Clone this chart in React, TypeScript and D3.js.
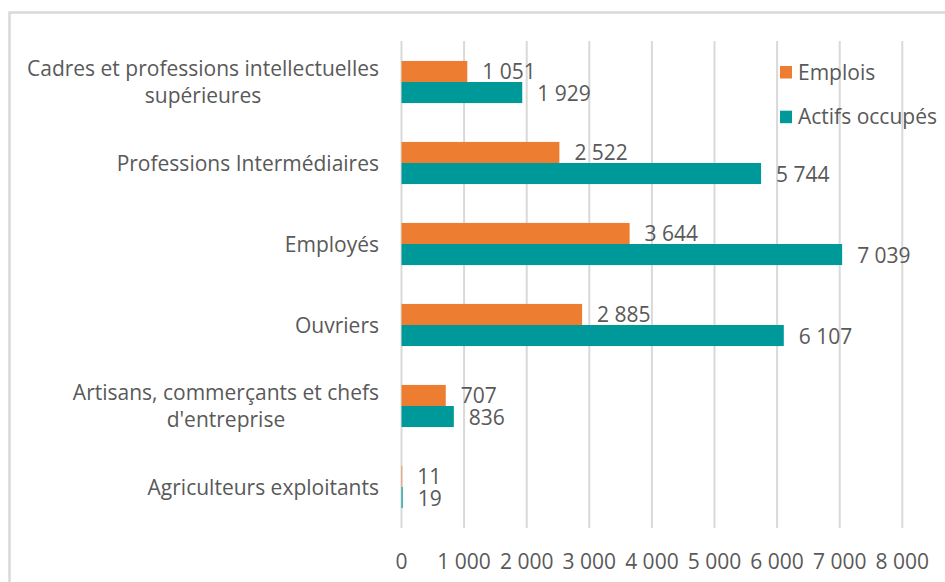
import React from "react";
import * as d3 from "d3";

const categories = [
  "Cadres et professions intellectuelles supérieures",
  "Professions Intermédiaires",
  "Employés",
  "Ouvriers",
  "Artisans, commerçants et chefs d'entreprise",
  "Agriculteurs exploitants",
];
const emplois = [1051, 2522, 3644, 2885, 707, 11];
const actifs = [1929, 5744, 7039, 6107, 836, 19];
const seriesNames = ["Emplois", "Actifs occupés"];
const seriesColors = ["#ED7D31", "#009999"];
const xTicks = [0, 1000, 2000, 3000, 4000, 5000, 6000, 7000, 8000];

const W = 945;
const H = 582;
const FONT = '"Open Sans", sans-serif';
const FS = 21;
const TEXT = "#595959";
const GRID = "#d9d9d9";

const fmt = (v: number) => d3.format(",")(v).replace(/,/g, " ");

let ctx: CanvasRenderingContext2D | null = null;
function measure(t: string) {
  if (!ctx) {
    ctx = document.createElement("canvas").getContext("2d");
  }
  if (!ctx) return t.length * FS * 0.5;
  ctx.font = `${FS}px "Open Sans"`;
  return ctx.measureText(t).width;
}

function wrap(label: string, maxW: number): string[] {
  const words = label.split(" ");
  const lines: string[] = [];
  let cur = "";
  for (const w of words) {
    const test = cur ? cur + " " + w : w;
    if (measure(test) > maxW && cur) {
      lines.push(cur);
      cur = w;
    } else cur = test;
  }
  if (cur) lines.push(cur);
  return lines;
}

export default function App() {
  const x = d3.scaleLinear().domain([0, 8000]).range([401.5, 902.3]);
  const y = d3
    .scaleBand<string>()
    .domain(categories)
    .range([41.5, 527.5])
    .paddingInner(0.48)
    .paddingOuter(0.24);
  const bw = y.bandwidth();
  const sub = d3.scaleBand<number>().domain([0, 1]).range([0, bw]);
  const series = [emplois, actifs];
  const labelRight = 379;

  return (
    <svg
      width={W}
      height={H}
      style={{ position: "absolute", left: 0, top: 0, background: "#fff" }}
      fontFamily={FONT}
    >
      <rect x={0} y={0} width={W} height={H} fill="#fff" />
      <rect x={9.5} y={12.5} width={W + 20} height={H + 20} fill="none" stroke={GRID} strokeWidth={2.5} />
      {xTicks.map((t) => (
        <line key={t} x1={x(t)} x2={x(t)} y1={41} y2={528} stroke={GRID} strokeWidth={2} />
      ))}
      {series.map((vals, si) =>
        vals.map((v, i) => {
          const y0 = (y(categories[i]) ?? 0) + (sub(si) ?? 0);
          return (
            <g key={`${si}-${i}`}>
              <rect
                x={x(0)}
                y={y0}
                width={Math.max(0, x(v) - x(0))}
                height={sub.bandwidth()}
                fill={seriesColors[si]}
              />
              <text
                x={x(v) + 15}
                y={y0 + sub.bandwidth() / 2 + 8}
                fontSize={FS}
                fill={TEXT}
              >
                {fmt(v)}
              </text>
            </g>
          );
        })
      )}
      {categories.map((c) => {
        const lines = wrap(c, 365);
        const cy = (y(c) ?? 0) + bw / 2;
        const lh = 27.5;
        const maxW = Math.max(...lines.map(measure));
        const cx = labelRight - maxW / 2;
        return (
          <g key={c}>
            {lines.map((l, k) => (
              <text
                key={k}
                x={lines.length > 1 ? cx : labelRight}
                y={cy + (k - (lines.length - 1) / 2) * lh + 7.5}
                fontSize={FS}
                fill={TEXT}
                textAnchor={lines.length > 1 ? "middle" : "end"}
              >
                {l}
              </text>
            ))}
          </g>
        );
      })}
      {xTicks.map((t) => (
        <text key={t} x={x(t)} y={568.5} fontSize={FS} fill={TEXT} textAnchor="middle">
          {fmt(t)}
        </text>
      ))}
      {seriesNames.map((n, i) => (
        <g key={n} transform={`translate(780, ${66 + i * 44.7})`}>
          <rect x={0} y={0} width={12} height={12.5} fill={seriesColors[i]} />
          <text x={18} y={6 + 7.5} fontSize={FS} fill={TEXT}>
            {n}
          </text>
        </g>
      ))}
    </svg>
  );
}
